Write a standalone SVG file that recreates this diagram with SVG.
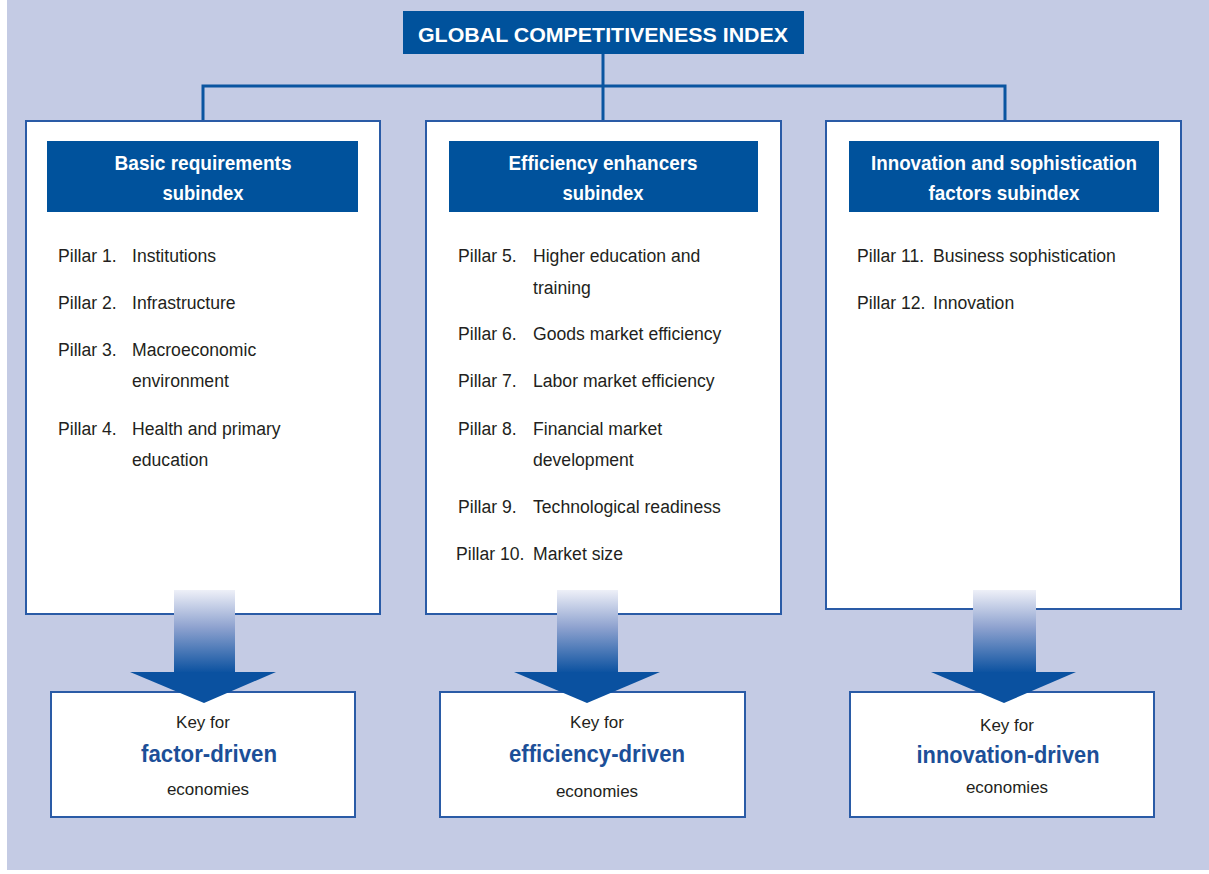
<svg xmlns="http://www.w3.org/2000/svg" width="1209" height="874" viewBox="0 0 1209 874">
<defs>
<linearGradient id="shaft" x1="0" y1="0" x2="0" y2="1">
<stop offset="0" stop-color="#eef0f8"/>
<stop offset="0.45" stop-color="#8ea2cf"/>
<stop offset="1" stop-color="#0a51a0"/>
</linearGradient>
<style>
.panel{fill:#ffffff;stroke:#2a5ba6;stroke-width:2}
.hdr{fill:#00529c}
.conn{fill:none;stroke:#0a55a0;stroke-width:3}
.ht{font-family:"Liberation Sans",Arial,sans-serif;font-weight:bold;font-size:21px;fill:#ffffff;text-anchor:middle}
.pt{font-family:"Liberation Sans",Arial,sans-serif;font-size:17.6px;fill:#231f20}
.kt{font-family:"Liberation Sans",Arial,sans-serif;font-size:17px;fill:#231f20;text-anchor:middle}
.kb{font-family:"Liberation Sans",Arial,sans-serif;font-weight:bold;font-size:23px;fill:#1c4f98;text-anchor:middle}
.head{fill:#0a51a0}
</style>
</defs>
<rect x="0" y="0" width="1209" height="874" fill="#ffffff"/>
<rect x="7" y="0" width="1202" height="870" fill="#c4cbe4"/>

<g id="connectors">
<path class="conn" d="M603 54 V121"/>
<path class="conn" d="M203 121 V86 H1005 V121"/>
</g>

<g id="title">
<rect x="403" y="11" width="401" height="43" class="hdr"/>
<text x="603" y="42" class="ht" textLength="370" lengthAdjust="spacingAndGlyphs">GLOBAL COMPETITIVENESS INDEX</text>
</g>

<g id="basic">
<rect x="26" y="121" width="354" height="493" class="panel"/>
<rect x="47" y="141" width="311" height="71" class="hdr"/>
<text x="203" y="170" class="ht" textLength="177" lengthAdjust="spacingAndGlyphs">Basic requirements</text>
<text x="203" y="200" class="ht" textLength="81" lengthAdjust="spacingAndGlyphs">subindex</text>
<text x="58" y="262" class="pt">Pillar 1.</text><text x="132" y="262" class="pt">Institutions</text>
<text x="58" y="309" class="pt">Pillar 2.</text><text x="132" y="309" class="pt">Infrastructure</text>
<text x="58" y="356" class="pt">Pillar 3.</text><text x="132" y="356" class="pt">Macroeconomic</text>
<text x="132" y="387" class="pt">environment</text>
<text x="58" y="435" class="pt">Pillar 4.</text><text x="132" y="435" class="pt">Health and primary</text>
<text x="132" y="466" class="pt">education</text>
</g>

<g id="efficiency">
<rect x="426" y="121" width="355" height="493" class="panel"/>
<rect x="449" y="141" width="309" height="71" class="hdr"/>
<text x="603" y="170" class="ht" textLength="189" lengthAdjust="spacingAndGlyphs">Efficiency enhancers</text>
<text x="603" y="200" class="ht" textLength="81" lengthAdjust="spacingAndGlyphs">subindex</text>
<text x="458" y="262" class="pt">Pillar 5.</text><text x="533" y="262" class="pt">Higher education and</text>
<text x="533" y="294" class="pt">training</text>
<text x="458" y="340" class="pt">Pillar 6.</text><text x="533" y="340" class="pt">Goods market efficiency</text>
<text x="458" y="387" class="pt">Pillar 7.</text><text x="533" y="387" class="pt">Labor market efficiency</text>
<text x="458" y="435" class="pt">Pillar 8.</text><text x="533" y="435" class="pt">Financial market</text>
<text x="533" y="466" class="pt">development</text>
<text x="458" y="513" class="pt">Pillar 9.</text><text x="533" y="513" class="pt">Technological readiness</text>
<text x="456" y="560" class="pt">Pillar 10.</text><text x="533" y="560" class="pt">Market size</text>
</g>

<g id="innovation">
<rect x="826" y="121" width="355" height="488" class="panel"/>
<rect x="849" y="141" width="310" height="71" class="hdr"/>
<text x="1004" y="170" class="ht" textLength="266" lengthAdjust="spacingAndGlyphs">Innovation and sophistication</text>
<text x="1004" y="200" class="ht" textLength="151" lengthAdjust="spacingAndGlyphs">factors subindex</text>
<text x="857" y="262" class="pt">Pillar 11.</text><text x="933" y="262" class="pt">Business sophistication</text>
<text x="857" y="309" class="pt">Pillar 12.</text><text x="933" y="309" class="pt">Innovation</text>
</g>

<g id="key-factor">
<rect x="51" y="692" width="304" height="125" class="panel"/>
<text x="203" y="728" class="kt">Key for</text>
<text x="209" y="762" class="kb" textLength="136" lengthAdjust="spacingAndGlyphs">factor-driven</text>
<text x="208" y="795" class="kt">economies</text>
</g>

<g id="key-efficiency">
<rect x="440" y="692" width="305" height="125" class="panel"/>
<text x="597" y="728" class="kt">Key for</text>
<text x="597" y="762" class="kb" textLength="176" lengthAdjust="spacingAndGlyphs">efficiency-driven</text>
<text x="597" y="797" class="kt">economies</text>
</g>

<g id="key-innovation">
<rect x="850" y="692" width="304" height="125" class="panel"/>
<text x="1007" y="731" class="kt">Key for</text>
<text x="1008" y="763" class="kb" textLength="183" lengthAdjust="spacingAndGlyphs">innovation-driven</text>
<text x="1007" y="793" class="kt">economies</text>
</g>

<g id="arrows">
<rect x="174" y="590" width="61" height="83" fill="url(#shaft)"/>
<path class="head" d="M130 672 H276 L204 703 Z"/>
<rect x="557" y="590" width="61" height="83" fill="url(#shaft)"/>
<path class="head" d="M514 672 H660 L587 703 Z"/>
<rect x="973" y="590" width="63" height="83" fill="url(#shaft)"/>
<path class="head" d="M931 672 H1076 L1004 703 Z"/>
</g>
</svg>
